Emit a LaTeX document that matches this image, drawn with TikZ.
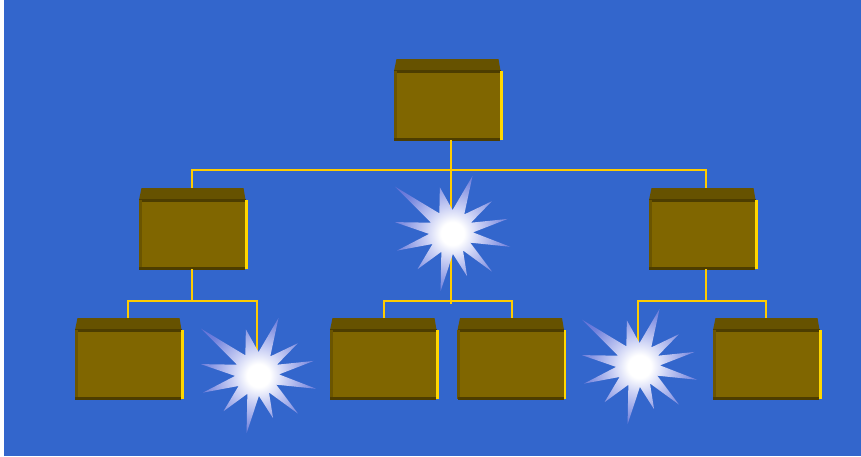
\documentclass[tikz,border=0pt]{standalone}
\usetikzlibrary{calc}
\definecolor{bgblue}{HTML}{3366CC}
\definecolor{frontc}{HTML}{806600}
\definecolor{topc}{HTML}{665200}
\definecolor{edgec}{HTML}{4D3D00}
\definecolor{sidec}{HTML}{6B5500}
\definecolor{hilite}{HTML}{FFD700}
\definecolor{linec}{HTML}{FFCC00}
\definecolor{starblue}{HTML}{5464D4}
\definecolor{starouter}{HTML}{7080DC}
\definecolor{starmid}{HTML}{C8CEF4}
\pgfdeclareradialshading{starshade}{\pgfpoint{0bp}{0bp}}{%
  color(0bp)=(white); color(5bp)=(white); color(12bp)=(starmid);
  color(25bp)=(starouter); color(38bp)=(starblue); color(50bp)=(starblue)}
\tikzset{
  conn/.style={draw=linec, line width=2pt},
  boxfront/.style={fill=frontc, inner sep=0pt, minimum width=106pt, minimum height=69pt, draw=none},
  boxtop/.style={fill=topc},
  boxedge/.style={fill=edgec},
  boxside/.style={fill=sidec},
  boxhi/.style={fill=hilite},
  burst/.style={shading=starshade},
}
% name, left x, top y, connector offset
\newcommand\orgbox[4]{%
  \fill[boxtop] (#2+2.5,#3) -- (#2+104.5,#3) -- (#2+106.5,#3+12) -- (#2,#3+12) -- cycle;
  \node[boxfront, anchor=north west] (#1) at (#2,#3+12) {};
  \fill[boxedge] (#2,#3+11) rectangle (#2+106.5,#3+13.5);
  \fill[boxside] (#2-0.5,#3+12) rectangle (#2+2.5,#3+81);
  \fill[boxedge] (#2,#3+79) rectangle (#2+106,#3+82);
  \fill[boxhi] (#2+106,#3+12) rectangle (#2+108.5,#3+81);
  \coordinate (#1-t) at (#2+#4,#3);
  \coordinate (#1-b) at (#2+#4,#3+81);
}
\newcommand\burstat[1]{%
  \begin{scope}[shift={(#1)}]
    \shade[burst] (-13:58) -- (-25:22) -- (-37:51) -- (-53:22) -- (-69:60) -- (-86:22)
      -- (-104:46) -- (-122:22) -- (-141:72) -- (-155:22) -- (-170:57) -- (-185:22)
      -- (-199:57) -- (-213:22) -- (-228:50) -- (-244:22) -- (-260:60) -- (-275:22)
      -- (-290:47) -- (-303:22) -- (-316:57) -- (-331:22) -- (-346:61) -- (-359:22) -- cycle;
  \end{scope}
}
\begin{document}
\begin{tikzpicture}[x=1pt, y=-1pt]
  \useasboundingbox (0,0) rectangle (861,456);
  \fill[white] (0,0) rectangle (861,456);
  \fill[bgblue] (4,0) rectangle (861,456);

  \coordinate (s0) at (451,232);
  \coordinate (s1) at (257,374);
  \coordinate (s2) at (638,365);

  \orgbox{top}{394}{59}{57}
  \orgbox{l2}{139}{188}{53}
  \orgbox{r2}{649}{188}{57}
  \orgbox{b1}{75}{318}{53}
  \orgbox{b3}{330}{318}{53.5}
  \orgbox{b4}{457.5}{318}{54}
  \orgbox{b6}{713}{318}{53}

  % connectors
  \draw[conn] (l2-t) -- ++(0,-18) -| (r2-t);
  \draw[conn] (top-b) -- ++(0,164);
  \draw[conn] (b3-t) -- ++(0,-17) -| (b4-t);
  \draw[conn] (l2-b) -- ++(0,32);
  \draw[conn] (b1-t) -- ++(0,-17) -| (s1);
  \draw[conn] (r2-b) -- ++(0,33);
  \draw[conn] (b6-t) -- ++(0,-17) -| (s2);

  % bursts
  \burstat{s0}
  \burstat{s1}
  \burstat{s2}
\end{tikzpicture}
\end{document}
